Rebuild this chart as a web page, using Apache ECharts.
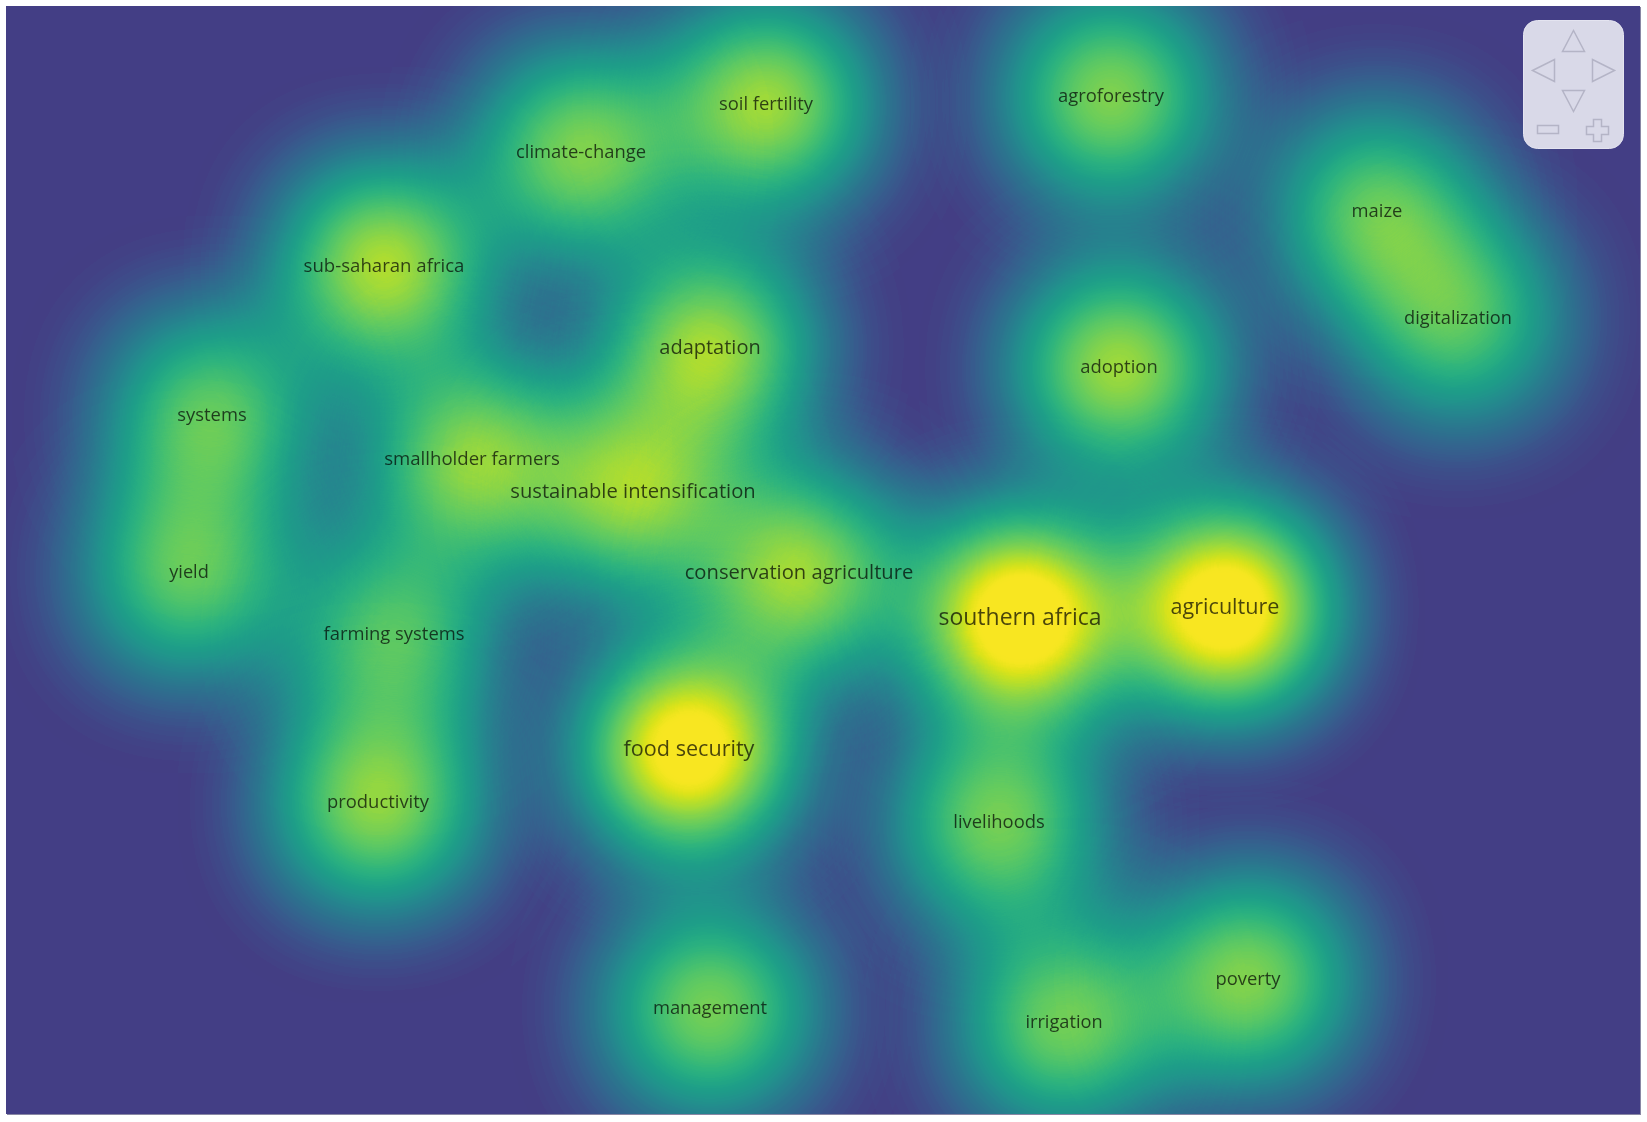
<!DOCTYPE html>
<html>
<head>
<meta charset="utf-8">
<title>Keyword density</title>
<script src="https://cdn.jsdelivr.net/npm/echarts@6/dist/echarts.min.js"></script>
<style>
  html, body { margin: 0; padding: 0; background: #fff; }
  #chart {
    position: absolute;
    left: 6px;
    top: 6px;
    width: 1634px;
    height: 1108px;
    box-shadow: 1px 1px 0 rgba(40, 36, 90, 0.55);
  }
</style>
</head>
<body>
<div id="chart"></div>
<script>
// keyword map, positions in map units (pixels of the 1634 x 1108 map)
const keywords = [
  'soil fertility', 'agroforestry', 'climate-change', 'maize', 'sub-saharan africa',
  'digitalization', 'adaptation', 'adoption', 'systems', 'smallholder farmers',
  'sustainable intensification', 'yield', 'conservation agriculture', 'southern africa',
  'agriculture', 'farming systems', 'food security', 'productivity', 'livelihoods',
  'management', 'irrigation', 'poverty'
];
const posX = [760, 1105, 575, 1371, 378, 1452, 704, 1113, 206, 466, 627, 183, 793, 1014, 1219, 388, 683, 372, 993, 704, 1058, 1242];
const posY = [99, 91, 147, 206, 261, 313, 342, 362, 410, 454, 486, 567, 567, 612, 602, 629, 744, 797, 817, 1003, 1017, 974];
// occurrences (drives label size) and density weight (drives the heat)
const occurrences = [12, 12, 12, 12, 13, 11, 20, 12, 12, 13, 21, 11, 21, 35, 28, 12, 28, 12, 12, 12, 11, 12];
const density = [69, 63, 63, 55, 72, 52, 69, 69, 56, 65, 66, 56, 69, 100, 98, 53, 95, 66, 61, 61, 60, 63];

const W = 1634, H = 1108;
const BG = '#433e85';

// viridis anchors, t = 0.15 .. 1.00 step 0.05
const viridis = [
  [70, 52, 128], [65, 68, 135], [59, 82, 139], [53, 95, 141], [47, 108, 142],
  [42, 120, 142], [37, 132, 142], [33, 145, 140], [30, 156, 137], [34, 168, 132],
  [47, 180, 124], [68, 191, 112], [94, 201, 98], [122, 209, 81], [155, 217, 60],
  [189, 223, 38], [223, 227, 24], [248, 230, 33]
];
function viridisAt(t) {
  const f = Math.max(0, (t - 0.15) / 0.05);
  const i = Math.min(viridis.length - 2, Math.floor(f));
  const k = Math.min(1, f - i);
  const c = viridis[i].map((v, j) => Math.round(v + (viridis[i + 1][j] - v) * k));
  return 'rgb(' + c.join(',') + ')';
}
// density level -> colour, with a softer lift at the low end for the halo
const A_TOP = 0.52;
const palette = [];
for (let s = 0; s <= 60; s++) {
  const lv = Math.min(1, (s / 60) / A_TOP);
  const lifted = lv + 0.5 * lv * (1 - lv) * (1 - lv);
  palette.push(viridisAt(0.18 + 0.82 * lifted));
}

const svg = '<svg xmlns="http://www.w3.org/2000/svg" width="' + W + '" height="' + H +
  '" viewBox="0 0 ' + W + ' ' + H + '"><rect x="0" y="0" width="' + W + '" height="' + H +
  '" fill="' + BG + '"/></svg>';
echarts.registerMap('plane', { svg: svg });

const chart = echarts.init(document.getElementById('chart'), null, { renderer: 'canvas' });

const heatData = keywords.map((k, i) => [posX[i], posY[i], density[i]]);
const labelData = keywords.map((k, i) => ({
  name: k,
  value: [posX[i], posY[i]],
  label: { fontSize: 16 + occurrences[i] / 5 }
}));

const ctrlStroke = '#b4b4c6';
const ctrlLine = { fill: 'none', stroke: ctrlStroke, lineWidth: 1.5 };
const ctrl = {
  type: 'group',
  right: 16,
  top: 14,
  z: 100,
  silent: true,
  children: [
    { type: 'rect', z: 100, shape: { x: 0, y: 0, width: 100, height: 128, r: 14 },
      style: { fill: '#d9d9e8', stroke: '#e4e4f0', lineWidth: 1 } },
    { type: 'polygon', z: 101, shape: { points: [[50, 10], [39, 31], [61, 31]] }, style: ctrlLine },
    { type: 'polygon', z: 101, shape: { points: [[9, 50], [31, 39], [31, 61]] }, style: ctrlLine },
    { type: 'polygon', z: 101, shape: { points: [[91, 50], [69, 39], [69, 61]] }, style: ctrlLine },
    { type: 'polygon', z: 101, shape: { points: [[50, 91], [39, 70], [61, 70]] }, style: ctrlLine },
    { type: 'rect', z: 101, shape: { x: 14, y: 105, width: 21, height: 8 }, style: ctrlLine },
    { type: 'polygon', z: 101, shape: { points: [[70, 99], [78, 99], [78, 106], [85, 106], [85, 114], [78, 114],
        [78, 121], [70, 121], [70, 114], [63, 114], [63, 106], [70, 106]] }, style: ctrlLine }
  ]
};

chart.setOption({
  animation: false,
  backgroundColor: BG,
  geo: {
    map: 'plane',
    roam: false,
    silent: true,
    aspectScale: 1,
    left: 0,
    top: 0,
    width: W,
    height: H
  },
  visualMap: {
    show: false,
    type: 'continuous',
    seriesIndex: 0,
    min: 0,
    max: 100,
    inRange: { color: palette }
  },
  series: [
    {
      type: 'heatmap',
      coordinateSystem: 'geo',
      data: heatData,
      pointSize: 80,
      blurSize: 120,
      minOpacity: 1,
      maxOpacity: 1,
      silent: true
    },
    {
      type: 'scatter',
      coordinateSystem: 'geo',
      data: labelData,
      symbol: 'circle',
      symbolSize: 1,
      z: 5,
      silent: true,
      itemStyle: { color: 'rgba(0,0,0,0)' },
      label: {
        show: true,
        position: 'inside',
        formatter: '{b}',
        color: 'rgba(0,0,0,0.88)',
        fontFamily: '"Open Sans", sans-serif'
      }
    }
  ],
  graphic: [ctrl]
});
</script>
</body>
</html>
